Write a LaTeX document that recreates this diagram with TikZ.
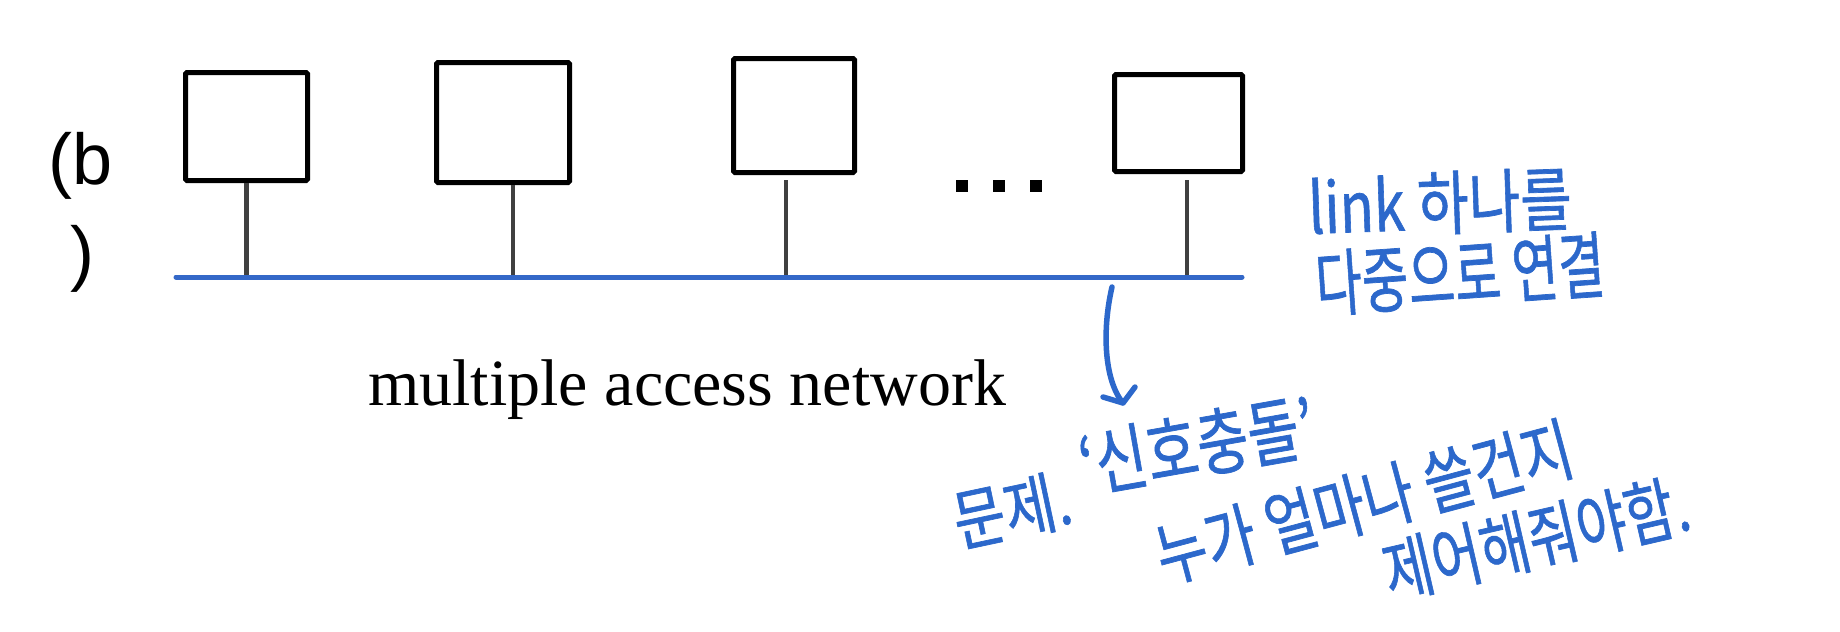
\documentclass[tikz,border=0pt]{standalone}
\usepackage{fontspec}
\setmainfont{Liberation Serif}
\newfontfamily\arialf{Liberation Sans}
\newfontfamily\krfont[FakeBold=1]{Noto Sans CJK KR}
\definecolor{hwblue}{HTML}{2C68CB}
\definecolor{busblue}{HTML}{3468C8}
\definecolor{stemgray}{HTML}{404040}
\begin{document}
\begin{tikzpicture}[x=1pt,y=1pt,
  host/.style={draw=black, line width=5pt, rounded corners=1.5pt, inner sep=0pt, fill=white},
  stem/.style={draw=stemgray, line width=4.5pt},
  bus/.style={draw=busblue, line width=5pt, line cap=round},
  dotbox/.style={fill=black, inner sep=0pt, minimum size=12pt, rectangle},
  hw/.style={text=hwblue, inner sep=0pt, transform shape, font=\krfont\fontsize{56}{60}\selectfont},
  hwline/.style={draw=hwblue, line width=5.5pt, line cap=round, line join=round}]
\fill[white] (0,0) rectangle (1840,-632);
\useasboundingbox (0,0) rectangle (1840,-632);

% hosts
\node[host, minimum width=122pt, minimum height=108pt] (b1) at (246.5,-126.5) {};
\node[host, minimum width=133pt, minimum height=120pt] (b2) at (503,-122.5) {};
\node[host, minimum width=121pt, minimum height=114pt] (b3) at (794,-115.5) {};
\node[host, minimum width=128pt, minimum height=97pt] (b4) at (1178.5,-123) {};

% bus
\coordinate (busL) at (176,-277);
\coordinate (busR) at (1242,-277);
\coordinate (s1) at (246.5,-277);
\coordinate (s2) at (513,-277);
\coordinate (s3) at (786,-277);
\coordinate (s4) at (1187,-277);
\coordinate (t3) at (786,-180);
\coordinate (t4) at (1187,-180);
\draw[stem] (b1.south) -- (s1);
\draw[stem] (s2 |- b2.south) -- (s2);
\draw[stem] (t3) -- (s3);
\draw[stem] (t4) -- (s4);
\draw[bus] (busL) -- (busR);

% dots
\node[dotbox] (d1) at (962,-186) {};
\node[dotbox] (d2) at (999,-186) {};
\node[dotbox] (d3) at (1036,-186) {};

% labels
\node[anchor=base west, inner sep=0pt, font=\arialf\fontsize{72}{80}\selectfont] (lb1) at (48,-184) {(b};
\node[anchor=base west, inner sep=0pt, font=\arialf\fontsize{72}{80}\selectfont] (lb2) at (70,-277) {)};
\node[anchor=base west, inner sep=0pt, font=\fontsize{66}{70}\selectfont] (mac) at (368,-405) {multiple access network};

% handwriting
\node[hw, rotate=2, yscale=1.25] (h1) at (1440,-203) {link 하나를};
\node[hw, rotate=4, xscale=0.9, yscale=1.3] (h2) at (1460,-274) {다중으로 연결};
\node[hw, rotate=12, yscale=1.2] (h3) at (1012,-510) {문제.};
\node[hw, rotate=10, yscale=1.3] (h4) at (1197,-445) {‘신호충돌’};
\node[hw, rotate=15, xscale=0.98, yscale=1.25] (h5) at (1364,-502) {누가 얼마나 쓸건지};
\node[hw, rotate=13, xscale=0.96, yscale=1.25] (h6) at (1536,-538) {제어해줘야함.};

% arrow
\coordinate (a0) at (1112,-287);
\coordinate (a1) at (1123,-403);
\coordinate (aL) at (1103,-397);
\coordinate (aR) at (1135,-387);
\draw[hwline] (a0) .. controls (1102,-330) and (1104,-380) .. (a1);
\draw[hwline] (aL) -- (a1) -- (aR);
\end{tikzpicture}
\end{document}
